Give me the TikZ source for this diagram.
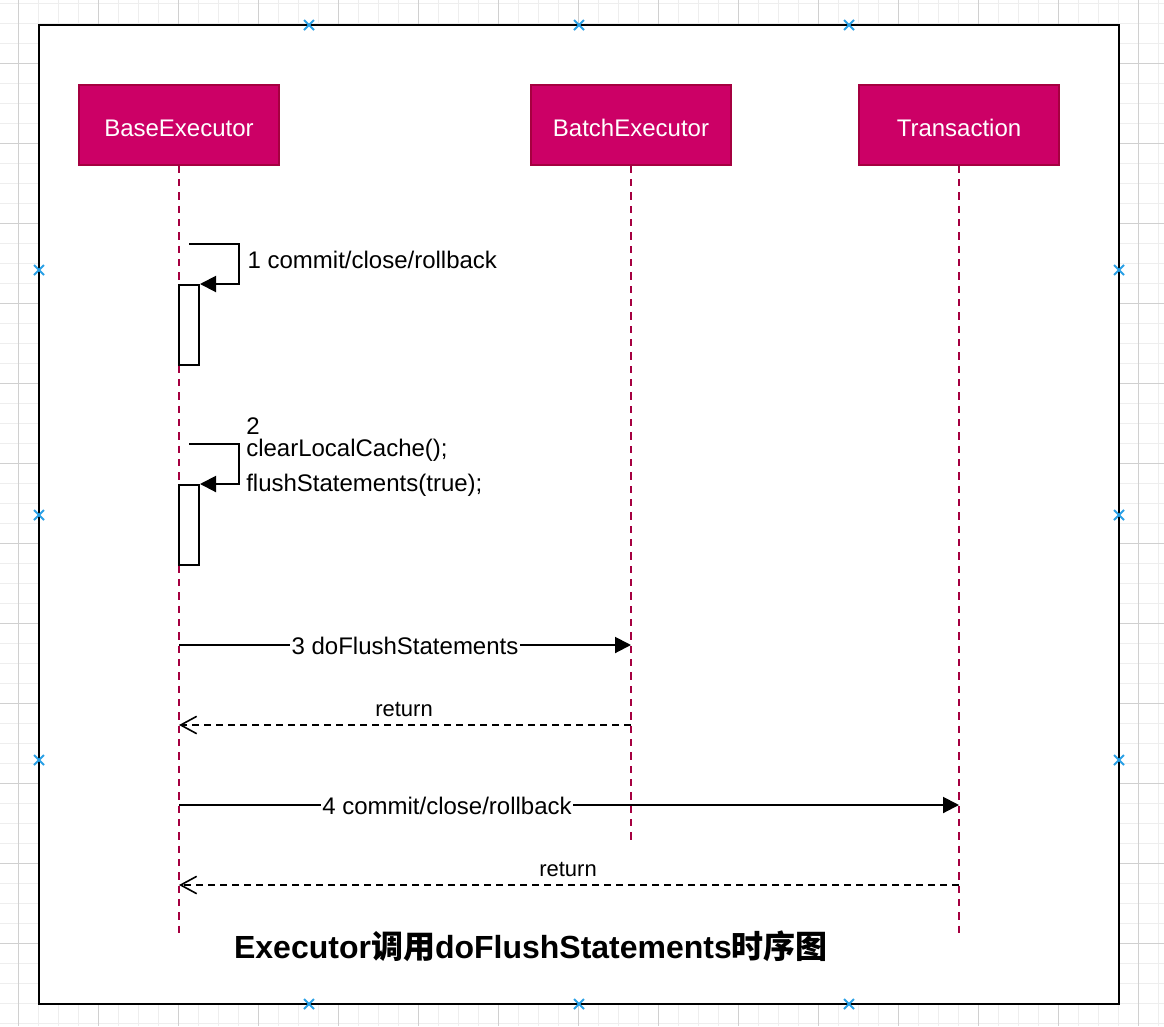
\documentclass[tikz,border=0pt]{standalone}
\usepackage{fontspec}
\setmainfont{Liberation Sans}
\newfontfamily\cjk{Noto Sans CJK SC}
\usetikzlibrary{arrows.meta}
\definecolor{gridminor}{RGB}{238,238,238}
\definecolor{gridmajor}{RGB}{208,208,208}
\definecolor{actorfill}{RGB}{204,0,102}
\definecolor{actorline}{RGB}{165,0,64}
\definecolor{markblue}{RGB}{41,160,230}
\begin{document}
\begin{tikzpicture}[x=0.75pt,y=-0.75pt,
  actor/.style={draw=actorline,fill=actorfill,line width=1.2pt,text=white,
    minimum width=150pt,minimum height=60pt,text height=16.5pt,text depth=0pt,
    font=\fontsize{18}{21}\selectfont},
  lifeline/.style={draw=actorline,line width=1.5pt,dash pattern=on 5.5pt off 4.5pt},
  activation/.style={draw,fill=white,line width=1.5pt,minimum width=15pt,
    minimum height=60pt,inner sep=0pt},
  msg/.style={line width=1.5pt,-{Triangle[length=12pt,width=12pt]}},
  ret/.style={line width=1.2pt,dash pattern=on 5pt off 4pt,
    -{Straight Barb[length=12pt,width=13pt]}},
  msglabel/.style={font=\fontsize{18}{21}\selectfont,inner sep=1pt},
  retlabel/.style={font=\fontsize{16.5}{19}\selectfont,inner sep=1pt},
  marker/.style={draw=markblue,line width=1.5pt}]
  \useasboundingbox (0,0) rectangle (1164,1026);
  \fill [white] (0,0) rectangle (1164,1026);
  \foreach \gx in {18,38,...,1158} \draw [gridminor] (\gx,0) -- (\gx,1026);
  \foreach \gy in {3,23,...,1023} \draw [gridminor] (0,\gy) -- (1164,\gy);
  \foreach \gx in {18,98,...,1138} \draw [gridmajor] (\gx,0) -- (\gx,1026);
  \foreach \gy in {63,143,...,983} \draw [gridmajor] (0,\gy) -- (1164,\gy);
  \draw [fill=white,line width=1.5pt] (39,25) rectangle (1119,1004);
  \node [actor] (base) at (179,125) {BaseExecutor};
  \node [actor] (batch) at (631,125) {BatchExecutor};
  \node [actor] (tx) at (959,125) {Transaction};
  \coordinate (baseend) at (179,938);
  \coordinate (batchend) at (631,843);
  \coordinate (txend) at (959,938);
  \draw [lifeline] (base.south) -- (baseend);
  \draw [lifeline] (batch.south) -- (batchend);
  \draw [lifeline] (tx.south) -- (txend);
  \node [activation] (act1) at (189,325) {};
  \node [activation] (act2) at (189,525) {};
  \draw [msg] ([yshift=30pt]act1.north) -- ++(50,0) |- (act1.north east);
  \node [msglabel,anchor=base west] (lbl1) at (246,268) {1 commit/close/rollback};
  \draw [msg] ([yshift=30pt]act2.north) -- ++(50,0) |- (act2.north east);
  \node [msglabel,inner sep=0pt,anchor=base west] (lbl2a) at (246,434) {2};
  \node [msglabel,inner sep=0pt,anchor=base west] (lbl2b) at (246,456) {clearLocalCache();};
  \node [msglabel,inner sep=0pt,anchor=base west] (lbl2c) at (246,491) {flushStatements(true);};
  \coordinate (m3s) at (179,645);
  \coordinate (m3e) at (631,645);
  \draw [msg] (m3s) -- (m3e);
  \node [msglabel,fill=white,anchor=base] (lbl3) at (405,654) {3 doFlushStatements};
  \coordinate (r3s) at (631,725);
  \coordinate (r3e) at (179,725);
  \draw [ret] (r3s) -- (r3e);
  \node [retlabel,anchor=base] (lblr3) at (404,716) {return};
  \coordinate (m4s) at (179,805);
  \coordinate (m4e) at (959,805);
  \draw [msg] (m4s) -- (m4e);
  \node [msglabel,fill=white,anchor=base] (lbl4) at (447,814) {4 commit/close/rollback};
  \coordinate (r4s) at (959,885);
  \coordinate (r4e) at (179,885);
  \draw [ret] (r4s) -- (r4e);
  \node [retlabel,anchor=base] (lblr4) at (568,876) {return};
  \node [font=\fontsize{24}{28}\selectfont\bfseries] (title) at (531,946)
    {Executor{\cjk\bfseries 调用}doFlushStatements{\cjk\bfseries 时序图}};
  \foreach \p in {(309,25),(579,25),(849,25),(309,1004),(579,1004),(849,1004),
    (39,270),(39,515),(39,760),(1119,270),(1119,515),(1119,760)}
    \draw [marker] \p ++(-5,-5) -- ++(10,10) ++(0,-10) -- ++(-10,10);
\end{tikzpicture}
\end{document}
